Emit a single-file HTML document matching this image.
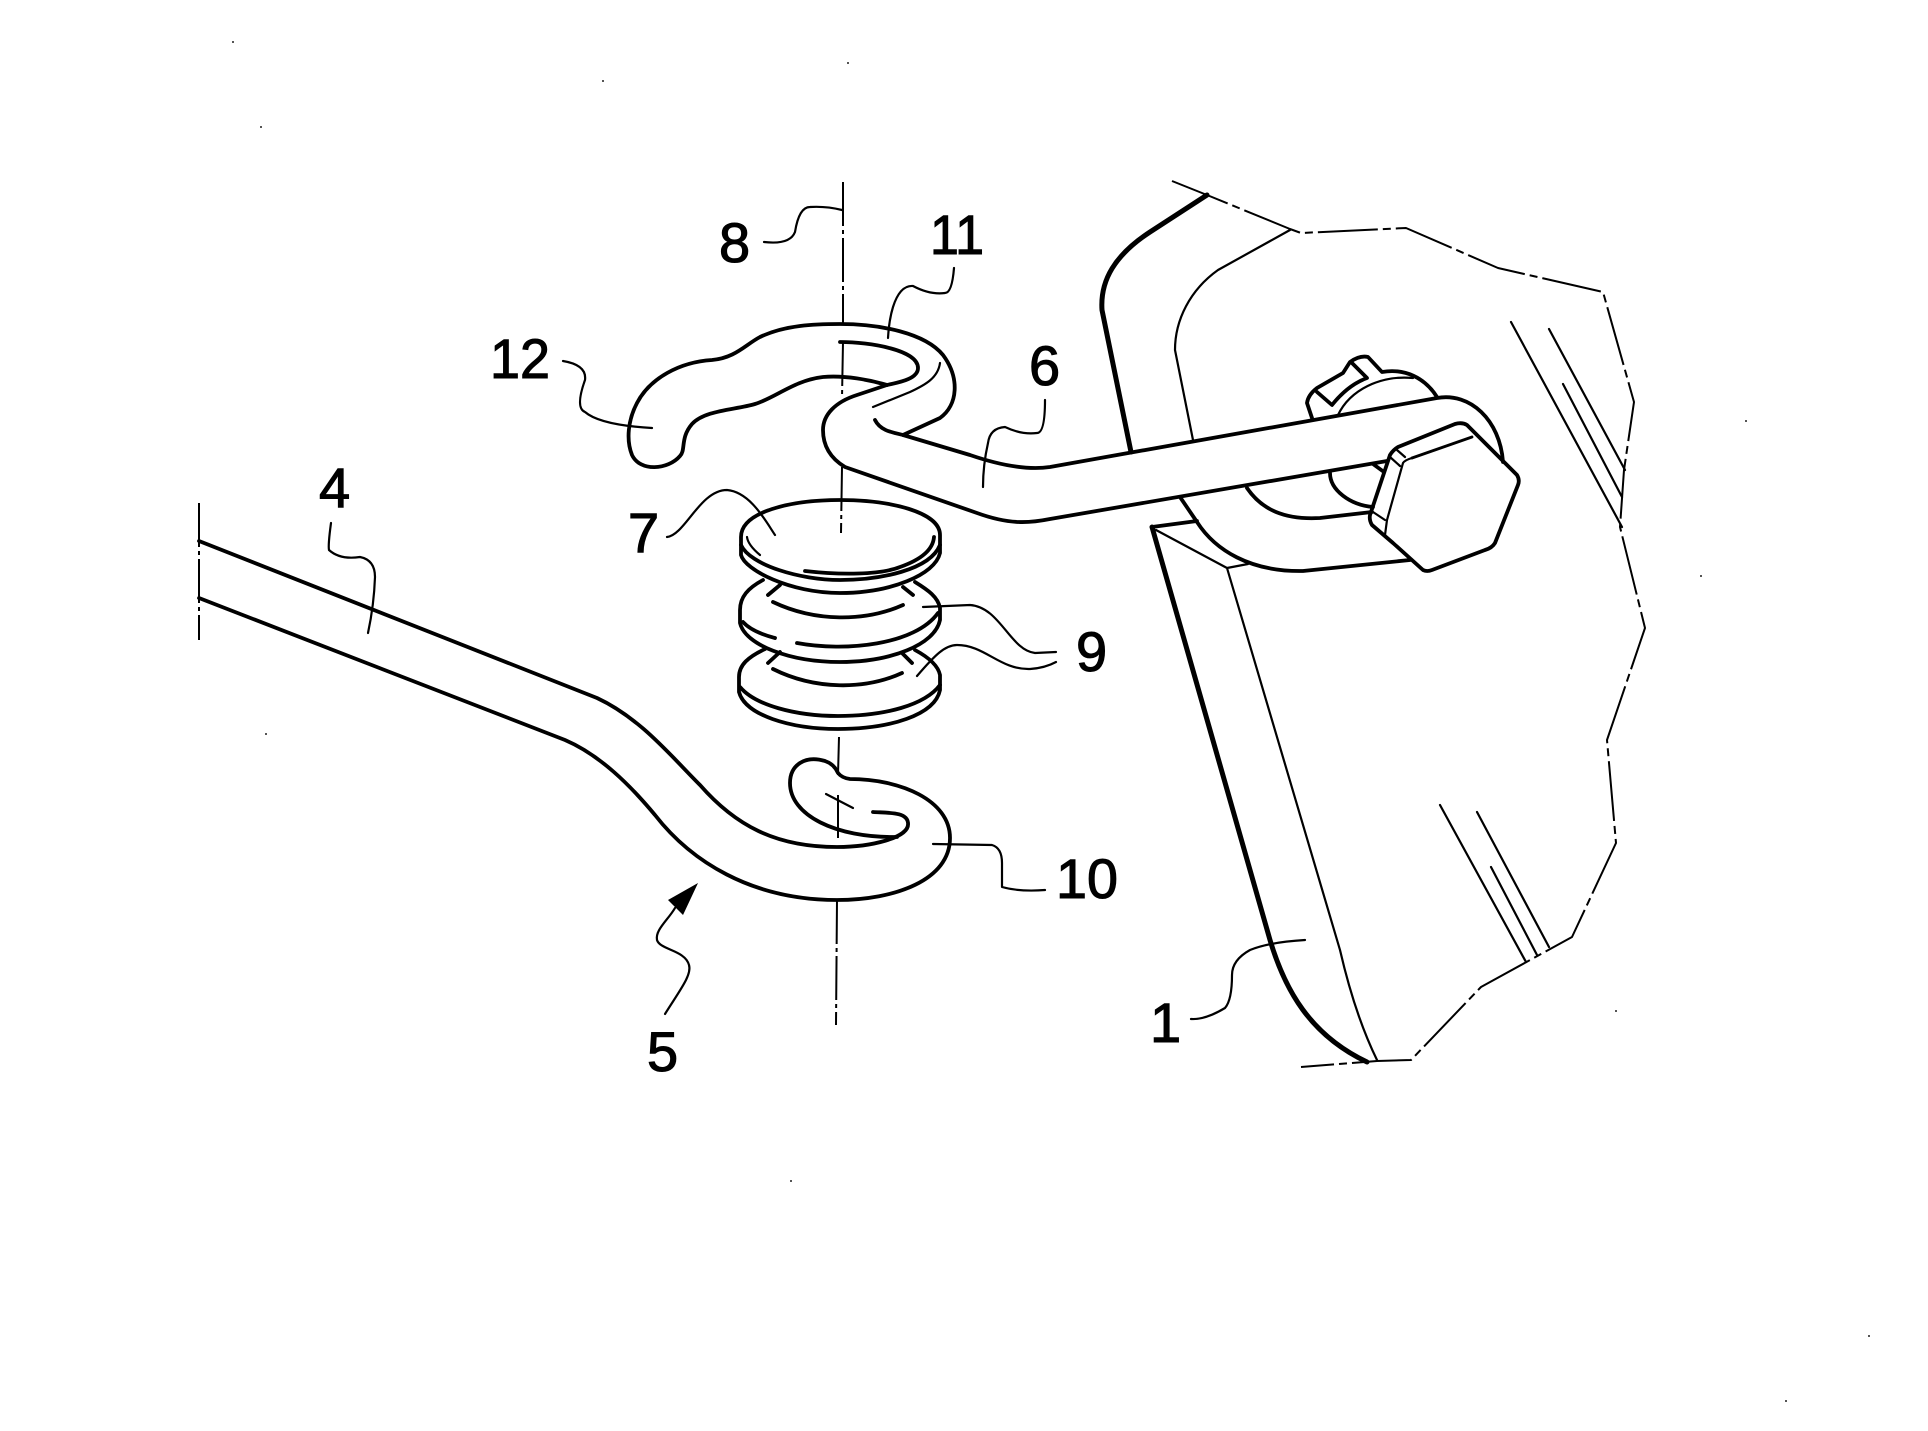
<!DOCTYPE html>
<html><head><meta charset="utf-8"><style>
html,body{margin:0;padding:0;background:#fff;width:1928px;height:1431px;overflow:hidden}
svg{display:block}
text{font-family:"Liberation Sans",sans-serif;font-size:56px;fill:#000;stroke:#000;stroke-width:1.1}
.t{fill:none;stroke:#000;stroke-width:3.8;stroke-linecap:round;stroke-linejoin:round}
.m{fill:none;stroke:#000;stroke-width:2.2;stroke-linecap:round;stroke-linejoin:round}
.h{fill:none;stroke:#000;stroke-width:5;stroke-linecap:round;stroke-linejoin:round}
.d{fill:none;stroke:#000;stroke-width:2;stroke-dasharray:44 4 4 4}
.b{fill:none;stroke:#000;stroke-width:2;stroke-dasharray:60 5 8 5;stroke-linejoin:round}
</style></head><body>
<svg width="1928" height="1431" viewBox="0 0 1928 1431" xmlns="http://www.w3.org/2000/svg">
<!-- axis -->
<path class="d" d="M843,182V323M843,342L842,398M842,467L841,533M839,737L838,775M838,795L838,838M837,900L836,1025"/>
<path class="d" d="M199,503V640"/>
<!-- rod 4 / hook 10 -->
<path class="t" d="M199,541 L597,698 C640,718 670,755 700,785 C735,825 775,847 837,847 C870,847 910,838 908,823 C907,812 890,813 873,812"/>
<path class="t" d="M199,598 L565,740 C600,755 630,785 655,815 C690,860 750,900 837,900 C895,900 950,880 950,838 C950,800 900,779 850,779 Q842,778 838,773 Q834,764 825,761 C805,755 790,765 790,783 C790,815 835,838 897,837"/>
<path class="m" d="M826,794L853,808"/>
<!-- hook 11/12 -->
<path class="t" d="M887,385 C870,380 845,375 823,377 C795,380 775,398 755,404 C735,410 705,410 692,424 C680,438 686,450 680,456 C668,470 640,472 632,455 C626,440 628,420 637,403 C650,378 680,362 712,360 C735,358 745,345 760,337 C785,325 815,324 840,324 C880,324 925,333 943,355 C960,378 958,405 940,418 L903,435"/>
<path class="t" d="M840,342 C870,342 918,350 918,368 C918,380 895,383 887,385 L857,395 C835,402 823,415 823,430 C823,445 830,458 845,467 L977,513 C1010,525 1030,523 1050,519 L1387,461"/>
<path class="t" d="M875,420 C880,430 890,432 903,435 L970,455 C1005,467 1030,470 1050,467 L1437,398 C1470,392 1500,420 1503,462"/>
<path class="m" d="M940,363 C938,378 925,385 910,392 L873,407"/>
<!-- discs -->
<path class="t" d="M741,537 C741,512 790,500 840,500 C890,500 940,512 940,535 L940,553 C935,575 890,593 840,593 C790,593 745,570 741,555 Z"/>
<path class="t" d="M741,545 C750,565 800,580 840,580 C880,580 930,570 940,545"/>
<path class="t" d="M805,571 C840,575 880,575 900,567 C920,560 933,550 934,537"/>
<path class="m" d="M747,537 Q748,545 760,555"/>
<path class="t" d="M780,585L768,595M903,587L913,595M780,652L768,663M902,653L912,663"/>
<path class="t" d="M763,580 C748,588 740,597 740,610 L740,623 C745,645 790,662 840,662 C890,662 935,645 940,620 L940,608 C938,597 928,590 915,582"/>
<path class="t" d="M743,622 Q752,632 775,638"/>
<path class="t" d="M797,643 C845,652 915,645 938,613"/>
<path class="t" d="M773,602 C815,622 865,622 903,605"/>
<path class="t" d="M765,649 C748,657 739,665 739,677 L739,692 C745,715 790,729 838,729 C890,729 935,715 940,690 L940,675 C938,665 928,657 915,650"/>
<path class="t" d="M740,687 C755,705 795,716 838,716 C885,716 925,705 940,685"/>
<path class="t" d="M773,669 C815,690 865,690 902,673"/>
<!-- tank -->
<path class="h" d="M1207,195 L1150,232 C1115,255 1100,280 1102,310 L1131,452"/>
<path class="m" d="M1290,230 L1218,270 C1190,290 1175,320 1175,350 L1193,440"/>
<path class="b" d="M1172,181 L1207,195 L1290,229 L1301,233 L1406,228 L1498,268 L1603,292 L1634,402 L1624,470 L1620,527 L1645,628 L1607,740 L1616,843 L1572,937 L1481,987 L1411,1060 L1377,1061 L1301,1067"/>
<path class="h" d="M1152,527 L1270,940 C1285,990 1310,1035 1367,1062"/>
<path class="t" d="M1152,527 L1197,521"/>
<path class="m" d="M1156,530 L1227,568 L1248,564 M1227,568 L1340,950 Q1355,1015 1377,1060"/>
<path class="m" d="M1511,322L1622,527M1549,329L1625,470M1563,384L1622,497M1440,805L1526,962M1477,812L1549,947M1491,867L1537,955"/>
<!-- bolt nub -->
<path class="t" d="M1312,418 L1307,403 Q1308,395 1317,388 L1343,373 L1350,362 Q1360,355 1368,357 L1382,372 C1405,368 1425,378 1437,397"/>
<path class="t" d="M1317,392 L1332,405 Q1348,385 1367,378 L1352,363"/>
<path class="m" d="M1338,415 C1350,390 1380,375 1413,378"/>
<!-- bolt loop -->
<path class="t" d="M1247,488 C1262,510 1285,520 1320,518 L1372,512"/>
<path class="t" d="M1180,497 L1197,522 C1215,550 1250,572 1303,571 L1410,560"/>
<path class="t" d="M1330,473 C1330,490 1350,505 1373,507M1373,464L1384,472"/>
<!-- hex head -->
<path class="t" d="M1398,447 L1455,424 Q1462,422 1467,425 L1517,475 Q1520,480 1518,485 L1495,543 Q1492,548 1485,550 L1432,570 Q1427,572 1423,570 L1393,543 L1372,525 Q1369,520 1370,515 L1390,455 Q1393,450 1398,447Z"/>
<path class="t" d="M1472,437 L1412,458" style="stroke-width:2.8"/>
<path class="m" d="M1412,458 Q1405,460 1403,463 L1387,520 L1385,535 M1397,450L1405,457 M1390,457L1400,466 M1373,512L1385,520"/>
<!-- leaders -->
<path class="m" d="M764,242 Q790,245 795,232 Q799,207 810,207 Q826,206 842,210"/>
<path class="m" d="M954,268 Q952,293 945,293 Q930,295 913,286 Q900,285 893,307 Q889,320 888,338"/>
<path class="m" d="M563,361 Q587,365 585,380 Q575,408 585,412 Q600,425 652,428"/>
<path class="m" d="M1045,400 Q1045,433 1037,433 Q1022,435 1005,427 Q990,428 988,443 Q983,465 983,487"/>
<path class="m" d="M667,537 C685,535 700,490 727,490 C750,492 765,520 775,535"/>
<path class="m" d="M331,523 Q328,545 329,550 Q340,560 360,557 Q375,560 375,577 Q374,605 368,633"/>
<path class="m" d="M923,607 L970,605 C1000,607 1010,650 1035,653 L1056,652"/>
<path class="m" d="M917,676 C935,655 945,645 957,645 C985,645 1000,670 1030,669 Q1045,668 1056,662"/>
<path class="m" d="M933,844 L992,845 Q1002,848 1002,863 L1002,887 Q1020,892 1045,890"/>
<path class="m" d="M665,1014 C680,990 692,975 689,965 C685,950 660,950 657,940 C655,930 668,920 675,908"/>
<path d="M698,883 L668,900 L683,915Z" fill="#000"/>
<path class="m" d="M1305,940 Q1270,942 1250,950 Q1232,960 1232,975 Q1232,1000 1225,1008 Q1205,1020 1191,1019"/>
<!-- labels -->
<text x="719" y="262">8</text>
<text x="930" y="254" textLength="54" lengthAdjust="spacingAndGlyphs">11</text>
<text x="490" y="378" textLength="60" lengthAdjust="spacingAndGlyphs">12</text>
<text x="1029" y="385">6</text>
<text x="628" y="552">7</text>
<text x="319" y="507">4</text>
<text x="1076" y="671">9</text>
<text x="1056" y="898" textLength="62" lengthAdjust="spacingAndGlyphs">10</text>
<text x="647" y="1071">5</text>
<text x="1150" y="1042">1</text>
<!-- speckle -->
<path fill="#555" d="M232,41h2v2h-2zM847,62h2v2h-2zM602,80h2v2h-2zM260,126h2v2h-2zM1745,420h2v2h-2zM1700,575h2v2h-2zM265,733h2v2h-2zM790,1180h2v2h-2zM1868,1335h2v2h-2zM1785,1400h2v2h-2zM1615,1010h2v2h-2z"/>
</svg>
</body></html>
